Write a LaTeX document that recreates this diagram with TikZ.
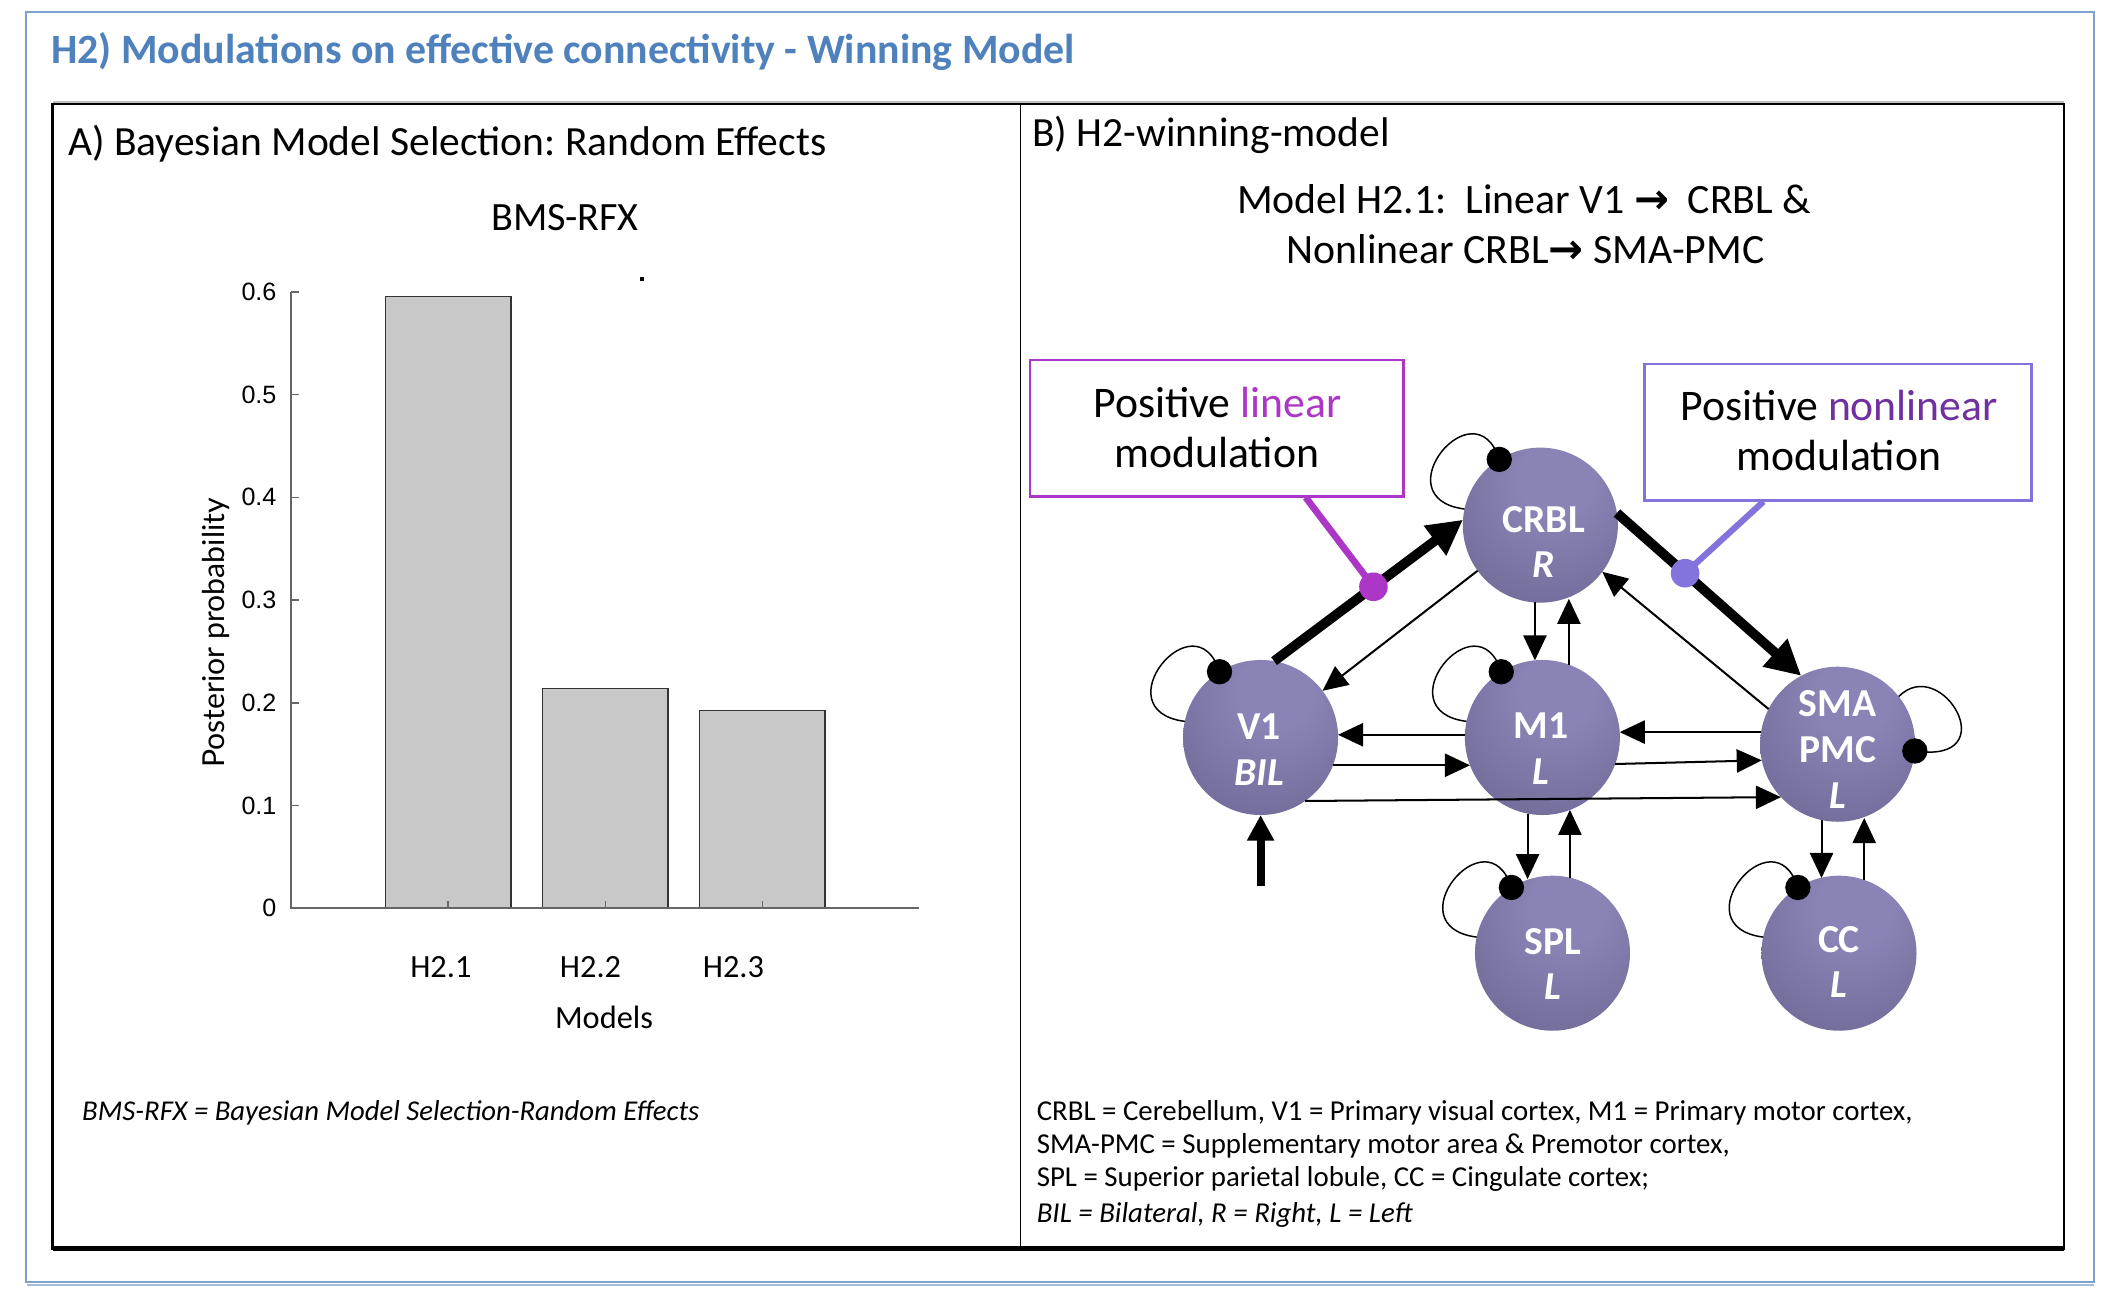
\documentclass[tikz,border=0pt]{standalone}
\usepackage{fontspec}
\setmainfont{Carlito}
\newfontfamily\arialf{Liberation Sans}
\newfontfamily\latof{Lato}
\newfontfamily\djv{DejaVu Sans}
\usetikzlibrary{arrows.meta,calc}
\frenchspacing
\definecolor{titleblue}{HTML}{4F81BD}
\definecolor{framecol}{HTML}{7EA0D0}
\definecolor{linmag}{HTML}{AC36C6}
\definecolor{nonlinlav}{HTML}{8373DC}
\definecolor{nonlintxt}{HTML}{7030A0}
\definecolor{bla}{HTML}{8984B5}
\definecolor{blb}{HTML}{726D9A}
\definecolor{blc}{HTML}{4F4B69}
\definecolor{bld}{HTML}{3C384F}
\definecolor{barfill}{HTML}{C8C8C8}
\definecolor{axisgray}{HTML}{666666}
\pgfdeclareradialshading{roishade}{\pgfpoint{6bp}{18bp}}{color(0bp)=(bla); color(12bp)=(bla); color(36bp)=(blb); color(56bp)=(blc); color(72bp)=(bld)}
\newcommand{\roiloopL}[1]{%
  \draw[loopline] (#1.168) .. controls +(-62,-8) and +(-18,-56) .. (#1.122);
  \fill (#1.122) circle[radius=4.7pt];}
\begin{document}
\begin{tikzpicture}[x=0.5pt,y=-0.5pt,
  txt/.style={inner sep=0pt, outer sep=0pt},
  roi/.style={circle, minimum size=57.5pt, inner sep=0pt, outer sep=0pt, shading=roishade},
  roilbl/.style={txt, text=white, align=center, font=\fontsize{14.7}{17}\selectfont\bfseries},
  thinarr/.style={line width=0.75pt, -{Triangle[length=9.3pt,width=8.6pt]}},
  thickarr/.style={line width=3.6pt, -{Triangle[length=13pt,width=13pt]}},
  inarr/.style={line width=3pt, -{Triangle[length=9.5pt,width=9.5pt]}},
  loopline/.style={line width=0.55pt},
  axisc/.style={draw=axisgray, line width=0.6pt},
  barstyle/.style={fill=barfill, draw=black!80, line width=0.5pt},
  ticklbl/.style={txt, font=\arialf\fontsize{9.3}{11}\selectfont, anchor=east},
  legend/.style={txt, anchor=base west, font=\fontsize{10.7}{12}\selectfont}
]
\useasboundingbox (0,0) rectangle (1568,971);
\fill[white] (0,0) rectangle (1568,971);
% frames
\draw[framecol, line width=0.8pt] (19,9) rectangle (1553,951);
\draw[framecol!70, line width=1pt] (20,953) -- (1553,953);
\draw[black!25, line width=0.6pt] (39,75.5) -- (1531,75.5);
\draw[black, line width=0.9pt] (39,77) rectangle (1531,926);
\draw[black, line width=1.6pt] (39,926) -- (1531,926);
\draw[black, line width=0.6pt] (757,77) -- (757,926);
% title and headings
\node[txt, anchor=base west, font=\fontsize{15.5}{18}\selectfont\bfseries, text=titleblue] (title) at (38,47) {H2) Modulations on effective connectivity - Winning Model};
\node[txt, anchor=base west, font=\fontsize{15.4}{18}\selectfont] (headA) at (50.5,115) {A) Bayesian Model Selection: Random Effects};
\node[txt, anchor=base west, font=\fontsize{15.4}{18}\selectfont] (headB) at (765.6,108.8) {B) H2-winning-model};
% chart
\node[txt, anchor=base, font=\fontsize{14.9}{18}\selectfont] (bms) at (419,170.6) {BMS-RFX};
\fill (474.5,205.5) rectangle (477.5,208.5);
\filldraw[barstyle] (286,673.6) rectangle (379,220);
\filldraw[barstyle] (402.5,673.6) rectangle (495.5,510.6);
\filldraw[barstyle] (519,673.6) rectangle (612,527);
\draw[axisc] (216,216.5) -- (216,673.6) -- (682,673.6);
\foreach \i/\l in {0/0,1/0.1,2/0.2,3/0.3,4/0.4,5/0.5,6/0.6}{
  \draw[axisc] (216,{673.6-76.18*\i}) -- +(6,0);
  \node[ticklbl] (yt\i) at (205,{673.6-76.18*\i}) {\l};
}
\foreach \x in {332.5,449,565.5}{\draw[axisc] (\x,673.6) -- +(0,-5);}
\node[txt, anchor=base, font=\fontsize{12}{14}\selectfont] (xl1) at (327,724.8) {H2.1};
\node[txt, anchor=base, font=\fontsize{12}{14}\selectfont] (xl2) at (438,724.8) {H2.2};
\node[txt, anchor=base, font=\fontsize{12}{14}\selectfont] (xl3) at (544,724.8) {H2.3};
\node[txt, anchor=base, font=\fontsize{12}{14}\selectfont] (xlab) at (448,762.6) {Models};
\node[txt, rotate=90, font=\latof\fontsize{11.2}{13}\selectfont] (ylab) at (160,469.5) {Posterior probability};
\node[legend, font=\fontsize{10.65}{12}\selectfont\itshape] (noteA) at (61,831) {BMS-RFX = Bayesian Model Selection-Random Effects};
% panel B text
\node[txt, anchor=base, font=\fontsize{15.5}{18}\selectfont] (mod1) at (1130.5,158) {Model H2.1:\ \ Linear V1 {\djv\bfseries →}\ \ CRBL \&};
\node[txt, anchor=base, font=\fontsize{15.5}{18}\selectfont] (mod2) at (1131.5,195.3) {Nonlinear CRBL{\djv\bfseries →} SMA-PMC};
% callout boxes
\node[draw=linmag, line width=1pt, minimum width=138.5pt, minimum height=50.5pt, inner sep=0pt] (lbox) at (902.5,317.5) {};
\node[txt, anchor=base, font=\fontsize{16.2}{19}\selectfont] (lbt1) at (903,310) {Positive \textcolor{linmag}{linear}};
\node[txt, anchor=base, font=\fontsize{16.2}{19}\selectfont] (lbt2) at (902.6,347) {modulation};
\node[draw=nonlinlav, line width=1pt, minimum width=143.5pt, minimum height=50.5pt, inner sep=0pt] (nbox) at (1363.5,320.5) {};
\node[txt, anchor=base, font=\fontsize{16.2}{19}\selectfont] (nbt1) at (1364.3,312) {Positive \textcolor{nonlintxt}{nonlinear}};
\node[txt, anchor=base, font=\fontsize{16.2}{19}\selectfont] (nbt2) at (1364,349) {modulation};
% regions
\node[roi] (crbl) at (1142.5,389.5) {};
\node[roi] (v1) at (935,547) {};
\node[roi] (m1) at (1144,547) {};
\node[roi] (sma) at (1363,552) {};
\node[roi] (spl) at (1151.5,707) {};
\node[roi] (cc) at (1364,707) {};
\node[roilbl] (crblt) at (1145,402) {CRBL\\\textit{R}};
\node[roilbl] (v1t) at (934,556) {V1\\\textit{BIL}};
\node[roilbl] (m1t) at (1143,555) {M1\\\textit{L}};
\node[roilbl] (smat) at (1363,556) {SMA\\PMC\\\textit{L}};
\node[roilbl] (splt) at (1152,715) {SPL\\\textit{L}};
\node[roilbl] (cct) at (1364,713.5) {CC\\\textit{L}};
% connections
\draw[thickarr] (v1.80) -- (crbl.176);
\draw[thickarr] (crbl.9) -- (sma.118);
\draw[thinarr] (crbl.216) -- (v1.37);
\draw[thinarr] (sma.153) -- (crbl.-37);
\draw[thinarr] (crbl.-94) -- (crbl.-94 |- m1.96);
\draw[thinarr] (m1.70) -- (m1.70 |- crbl.-72);
\draw[thinarr] (m1.178) -- (m1.178 -| v1.3);
\draw[thinarr] (v1.-21) -- (m1.201);
\draw[thinarr] (sma.171) -- (sma.171 -| m1.4);
\draw[thinarr] (m1.-20) -- (sma.192);
\draw[thinarr] (v1.-55) -- (sma.223);
\draw[thinarr] (m1.-101) -- (m1.-101 |- spl.107);
\draw[thinarr] (spl.77) -- (spl.77 |- m1.-69);
\draw[thinarr] (sma.-102) -- (sma.-102 |- cc.104);
\draw[thinarr] (cc.71) -- (cc.71 |- sma.-72);
\coordinate (vin) at (935,657);
\draw[inarr] (vin) -- (v1.south);
% self connections
\roiloopL{crbl}
\roiloopL{v1}
\roiloopL{m1}
\roiloopL{spl}
\roiloopL{cc}
\draw[loopline] (sma.38) .. controls +(32,-32) and +(68,10) .. (sma.-5);
\fill (sma.-5) circle[radius=4.7pt];
% modulation markers
\coordinate (ldot) at ($(v1.80)!0.526!(crbl.176)$);
\draw[linmag, line width=2.5pt] ([xshift=33pt]lbox.south) -- (ldot);
\fill[linmag] (ldot) circle[radius=5.3pt];
\coordinate (ndot) at ($(crbl.9)!0.37!(sma.118)$);
\draw[nonlinlav, line width=2.3pt] ([xshift=-27.75pt]nbox.south) -- (ndot);
\fill[nonlinlav] (ndot) circle[radius=5.3pt];
% legend
\node[legend] (lg1) at (769,831) {CRBL = Cerebellum, V1 = Primary visual cortex, M1 = Primary motor cortex,};
\node[legend] (lg2) at (769,855.3) {SMA-PMC = Supplementary motor area \& Premotor cortex,};
\node[legend] (lg3) at (769,879.7) {SPL = Superior parietal lobule, CC = Cingulate cortex;};
\node[legend, font=\fontsize{10.7}{12}\selectfont\itshape] (lg4) at (769,906.5) {BIL = Bilateral, R = Right, L = Left};
\end{tikzpicture}
\end{document}
